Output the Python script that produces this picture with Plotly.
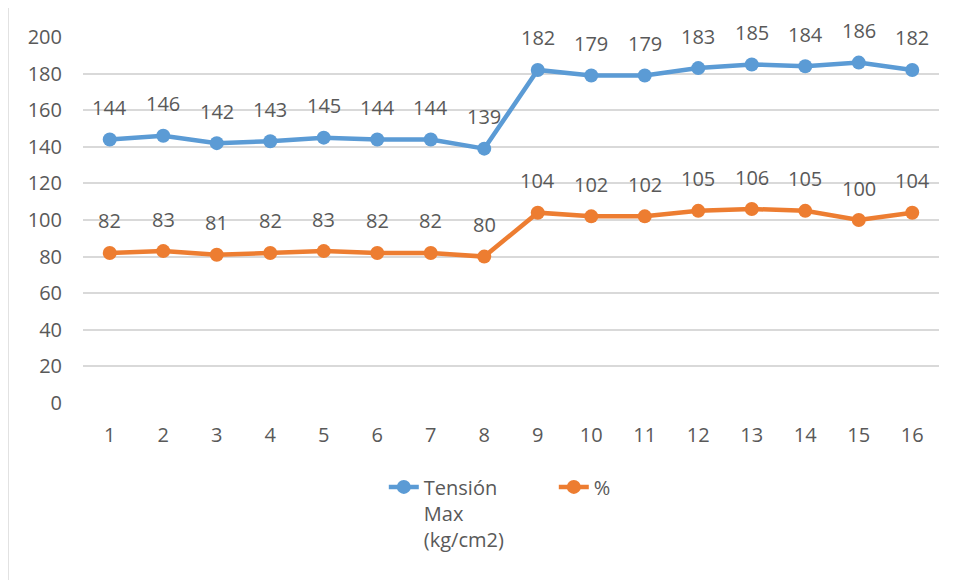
import plotly.graph_objects as go

categories = list(range(1, 17))
tension_max = [144, 146, 142, 143, 145, 144, 144, 139, 182, 179, 179, 183, 185, 184, 186, 182]
percent = [82, 83, 81, 82, 83, 82, 82, 80, 104, 102, 102, 105, 106, 105, 100, 104]
series_names = ["Tensión<br>Max<br>(kg/cm2)", "%"]
y_ticks = list(range(0, 201, 20))

blue = "#5B9BD5"
orange = "#ED7D31"
text_color = "#595959"
font_family = "Open Sans, Liberation Sans, sans-serif"
fs = 20

fig = go.Figure()
for name, vals, col in [(series_names[0], tension_max, blue), (series_names[1], percent, orange)]:
    fig.add_trace(go.Scatter(
        x=categories, y=vals, name=name, mode="lines+markers",
        line=dict(color=col, width=4.5),
        marker=dict(color=col, size=14),
    ))
    for xv, yv in zip(categories, vals):
        fig.add_annotation(x=xv, y=yv, text=str(yv), showarrow=False,
                           yshift=32, font=dict(size=fs, color=text_color, family=font_family))

fig.add_shape(type="rect", xref="paper", yref="paper",
              x0=-0.0876, x1=1.0128, y0=-0.49, y1=1.082,
              line=dict(color="#D9D9D9", width=1.5), fillcolor="rgba(0,0,0,0)", layer="below")

fig.update_layout(
    width=955, height=580,
    margin=dict(l=75, r=24, t=29, b=185),
    paper_bgcolor="white", plot_bgcolor="white",
    font=dict(family=font_family, size=fs, color=text_color),
    showlegend=True,
    legend=dict(orientation="h", x=0.55, xanchor="center", y=-0.176, yanchor="top",
                font=dict(size=fs, color=text_color), traceorder="normal",
                entrywidth=125, entrywidthmode="pixels", valign="top"),
    xaxis=dict(range=[0.5, 16.5], tickvals=categories, ticktext=[str(c) for c in categories],
               showgrid=False, zeroline=False, showline=False, ticks="",
               ticklabelstandoff=18, tickfont=dict(size=fs, color=text_color)),
    yaxis=dict(range=[0, 200], tickvals=y_ticks, showgrid=True, gridcolor="#D9D9D9",
               gridwidth=1.5, zeroline=False, showline=False, ticks="",
               ticklabelstandoff=20, tickfont=dict(size=fs, color=text_color)),
)

fig.write_html("out.html")
